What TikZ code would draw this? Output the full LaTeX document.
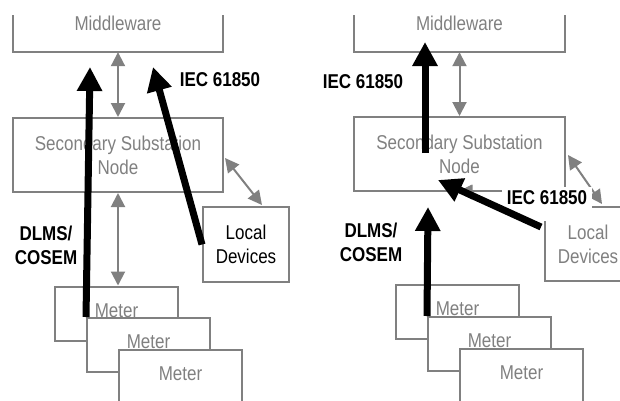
\documentclass[tikz,border=0pt]{standalone}
\usepackage{fontspec}
\setmainfont{Liberation Sans}[FakeStretch=0.85]
\usetikzlibrary{arrows.meta,calc}
\definecolor{boxgray}{RGB}{128,128,128}
\begin{document}
\begin{tikzpicture}[x=1pt,y=-1pt,
  every node/.style={font=\fontsize{20pt}{24pt}\selectfont, inner sep=0pt},
  gbox/.style={draw=boxgray, line width=2pt, fill=white, text=boxgray, align=center},
  sidebox/.style={text=boxgray, align=center},
  meterbox/.style={gbox, minimum width=123pt, minimum height=54pt, text depth=6pt},
  garrow/.style={draw=boxgray, line width=2pt, {Triangle[width=14pt,length=14pt]}-{Triangle[width=14pt,length=14pt]}},
  barrow/.style={draw=black, line width=7pt, -{Triangle[width=24pt,length=24pt]}},
  blabel/.style={font=\fontsize{20pt}{24pt}\selectfont\bfseries, align=center},
]
\useasboundingbox (0,0) rectangle (620,400);
\clip (0,0) rectangle (620,400);

% ---------- left panel ----------
\node[sidebox, minimum width=210pt, minimum height=57pt] (mw1) at (118,23.5) {Middleware};
\draw[boxgray, line width=2pt] (mw1.south west |- 0,15) -- (mw1.south west) -- (mw1.south east) -- (mw1.south east |- 0,15);
\node[gbox, minimum width=210pt, minimum height=74pt] (ssn1) at (118,155) {Secondary Substation\\Node};
\node[gbox, text=black, minimum width=86pt, minimum height=75pt] (ld1) at (246,244.5) {Local\\Devices};
\node[meterbox] (m1a) at (116.5,313.5) {Meter};
\node[meterbox] (m2a) at (148.5,345) {Meter};
\node[meterbox] (m3a) at (180.5,377) {Meter};

\draw[garrow] (mw1.south) -- (ssn1.north);
\draw[garrow] (ssn1.south) -- (ssn1.south |- m1a.north);
\draw[garrow] ($(ssn1.east)+(1,3)$) -- ($(ld1.north)+(16,-1)$);

\coordinate (tipd1) at (90,67);
\coordinate (tipi1) at (153,67);
\draw[barrow] (m2a.north west) -- (tipd1);
\draw[barrow] (ld1.west) -- (tipi1);

\node[blabel] (li1) at (220,80) {IEC 61850};
\node[blabel] (ld1lab) at (46,245) {DLMS/\\COSEM};

% ---------- right panel ----------
\node[sidebox, minimum width=211pt, minimum height=57pt] (mw2) at (459.5,23.5) {Middleware};
\draw[boxgray, line width=2pt] (mw2.south west |- 0,15) -- (mw2.south west) -- (mw2.south east) -- (mw2.south east |- 0,15);
\node[gbox, minimum width=211pt, minimum height=74pt] (ssn2) at (459.5,154) {Secondary Substation\\Node};
\node[gbox, minimum width=86pt, minimum height=74pt] (ld2) at (588,244) {Local\\Devices};
\node[meterbox] (m1b) at (457.5,312) {Meter};
\node[meterbox] (m2b) at (489.5,344) {Meter};
\node[meterbox] (m3b) at (521.5,376) {Meter};

\draw[garrow] (mw2.south) -- (ssn2.north);
\draw[garrow] ($(ssn2.south)+(-1,0)$) -- ($(ssn2.south -| m1b.north)+(0,0)$ |- m1b.north);
\draw[garrow] ($(ssn2.east)+(2,1)$) -- ($(ld2.north)+(14,-2)$);

\node[blabel, fill=white, text height=14.3pt, text depth=14pt, inner xsep=4.5pt, inner ysep=3pt] (li3) at (547,204) {IEC 61850};

\coordinate (tipi2) at (425,42);
\coordinate (taili2) at (425,153);
\coordinate (taili3) at (541,227);
\coordinate (tipi3) at (438,180);
\coordinate (tipd2) at (428,207);
\draw[barrow] (taili2) -- (tipi2);
\draw[barrow] (taili3) -- (tipi3);
\draw[barrow] (m2b.north west) -- (tipd2);

\node[blabel] (li2) at (363,82) {IEC 61850};
\node[blabel] (ld2lab) at (371,242) {DLMS/\\COSEM};
\end{tikzpicture}
\end{document}
